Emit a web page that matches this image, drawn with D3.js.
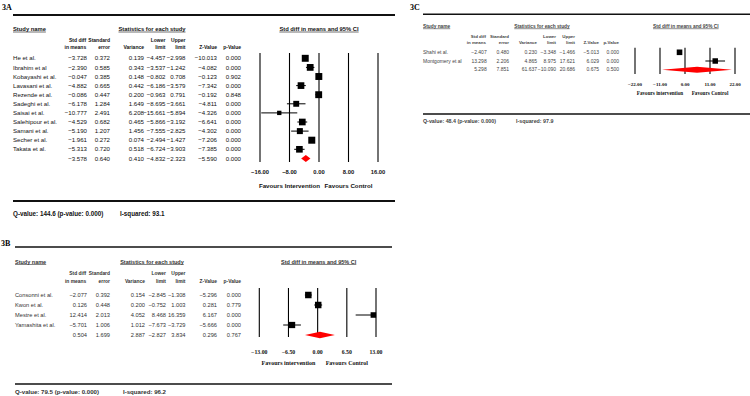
<!DOCTYPE html>
<html>
<head>
<meta charset="utf-8">
<script src="https://cdn.jsdelivr.net/npm/d3@7/dist/d3.min.js"></script>
<style>
  html, body { margin: 0; padding: 0; background: #fff; }
  svg { display: block; }
</style>
</head>
<body>
<div id="chart"></div>
<script>
// Forest plots 3A / 3B / 3C - study tables with std diff in means and 95% CI

// columns: std diff, standard error, variance, lower limit, upper limit, z, p
const namesA = ['He et al.', 'Ibrahim et al', 'Kobayashi et al.', 'Lavasani et al.', 'Rezende et al.',
  'Sadeghi et al.', 'Saisai et al.', 'Salehipour et al.', 'Samani et al.', 'Secher et al.', 'Takata et al.'];
const statsA = [
  [-3.728, 0.372, 0.139, -4.457, -2.998, -10.013, 0.000],
  [-2.390, 0.585, 0.343, -3.537, -1.242, -4.082, 0.000],
  [-0.047, 0.385, 0.148, -0.802, 0.708, -0.123, 0.902],
  [-4.882, 0.665, 0.442, -6.186, -3.579, -7.342, 0.000],
  [-0.086, 0.447, 0.200, -0.963, 0.791, -0.192, 0.848],
  [-6.178, 1.284, 1.649, -8.695, -3.661, -4.811, 0.000],
  [-10.777, 2.491, 6.208, -15.661, -5.894, -4.326, 0.000],
  [-4.529, 0.682, 0.465, -5.866, -3.192, -6.641, 0.000],
  [-5.190, 1.207, 1.456, -7.555, -2.825, -4.302, 0.000],
  [-1.961, 0.272, 0.074, -2.494, -1.427, -7.206, 0.000],
  [-5.313, 0.720, 0.518, -6.724, -3.903, -7.385, 0.000]
];
const summaryA = [-3.578, 0.640, 0.410, -4.832, -2.323, -5.590, 0.000];
const ticksA = [-16, -8, 0, 8, 16];
const hetA = { q: 144.6, p: 0.000, i2: 93.1 };

const namesB = ['Consonni et al.', 'Kwon et al.', 'Mestre et al.', 'Yamashita et al.'];
const statsB = [
  [-2.077, 0.392, 0.154, -2.845, -1.308, -5.296, 0.000],
  [0.126, 0.448, 0.200, -0.752, 1.003, 0.281, 0.779],
  [12.414, 2.013, 4.052, 8.468, 16.359, 6.167, 0.000],
  [-5.701, 1.006, 1.012, -7.673, -3.729, -5.666, 0.000]
];
const summaryB = [0.504, 1.699, 2.887, -2.827, 3.834, 0.296, 0.767];
const ticksB = [-13, -6.5, 0, 6.5, 13];
const hetB = { q: 79.5, p: 0.000, i2: 96.2 };

const namesC = ['Shahi et al.', 'Montgomery et al'];
const statsC = [
  [-2.407, 0.480, 0.230, -3.348, -1.466, -5.013, 0.000],
  [13.298, 2.206, 4.865, 8.975, 17.621, 6.029, 0.000]
];
const summaryC = [5.298, 7.851, 61.637, -10.090, 20.686, 0.675, 0.500];
const ticksC = [-22, -11, 0, 11, 22];
const hetC = { q: 48.4, p: 0.000, i2: 97.9 };

const width = 750;
const height = 396;
const SANS = 'Arial, "Liberation Sans", sans-serif';
const SERIF = '"Times New Roman", "Liberation Serif", serif';

const svg = d3.select('#chart').append('svg')
  .attr('width', width)
  .attr('height', height)
  .attr('viewBox', `0 0 ${width} ${height}`);

const panels = [
  {
    label: '3A', labelX: 2, labelY: 9.5,
    names: namesA, stats: statsA, summary: summaryA, ticks: ticksA, het: hetA,
    left: 13, right: 395, topY: 15, topW: 1.8, bottomY: 201, bottomW: 1.8,
    titleY: 31, head1: 41.5, head2: 48.5, row0: 58.3, pitch: 9.1,
    cols: [87, 110, 144, 165.5, 185.5, 217, 241], statsCenter: 152,
    range: [260, 378], gridTop: 53, gridBottom: 162, tickY: 171.5, favY: 186, axisFont: SANS,
    plotTitleX: 319, qY: 216, i2X: 120,
    body: 6.1, head: 5.8, colHead: 5.0, tickSize: 5.8, favSize: 6.2, qSize: 6.3, color: '#111',
    markMax: 7, diamondH: 7
  },
  {
    label: '3B', labelX: 1, labelY: 245.5,
    names: namesB, stats: statsB, summary: summaryB, ticks: ticksB, het: hetB,
    left: 15, right: 392, topY: 247, topW: 1.4, bottomY: 384, bottomW: 1.6,
    titleY: 263.5, head1: 274.5, head2: 283, row0: 295, pitch: 10,
    cols: [87, 110, 145, 166, 185.5, 217, 241], statsCenter: 152,
    range: [259.3, 376], gridTop: 288, gridBottom: 337, tickY: 351.5, favY: 362.5, axisFont: SERIF,
    plotTitleX: 318.7, qY: 394, i2X: 123,
    body: 5.7, head: 5.5, colHead: 4.9, tickSize: 5.8, favSize: 6, qSize: 6.1, color: '#333',
    markMax: 6.5, diamondH: 6.5
  },
  {
    label: '3C', labelX: 410, labelY: 9.5,
    names: namesC, stats: statsC, summary: summaryC, ticks: ticksC, het: hetC,
    left: 423, right: 750, topY: 14.3, topW: 1.6, bottomY: 114, bottomW: 1.6,
    titleY: 27.7, head1: 38.3, head2: 44, row0: 52.3, pitch: 8.7,
    cols: [486.7, 509, 537, 556, 575, 599, 619], statsCenter: 542,
    range: [635, 735], gridTop: 47.7, gridBottom: 74, tickY: 84.4, favY: 93.4, axisFont: SERIF,
    plotTitleX: 685.8, qY: 122.8, i2X: 516,
    body: 5.0, head: 4.8, colHead: 4.4, tickSize: 5, favSize: 5.2, qSize: 5.3, color: '#444',
    markMax: 5.6, diamondH: 6
  }
];

panels.forEach(drawPanel);

function underlined(g, text, x, y, size, anchor, color) {
  const t = g.append('text')
    .attr('x', x)
    .attr('y', y)
    .attr('text-anchor', anchor)
    .style('font-family', SANS)
    .style('font-weight', 'bold')
    .style('font-size', size + 'px')
    .style('fill', color)
    .text(text);
  const w = t.node().getComputedTextLength();
  const x0 = anchor === 'middle' ? x - w / 2 : x;
  g.append('line')
    .attr('x1', x0).attr('x2', x0 + w)
    .attr('y1', y + 1).attr('y2', y + 1)
    .attr('stroke', color)
    .attr('stroke-width', 0.6);
}

function drawPanel(p) {
  const g = svg.append('g').attr('class', 'panel-' + p.label);
  const fmt = d3.format('.3f');

  // panel label
  g.append('text')
    .attr('x', p.labelX)
    .attr('y', p.labelY)
    .style('font-family', SERIF)
    .style('font-weight', 'bold')
    .style('font-size', '8px')
    .text(p.label);

  // frame rules
  g.append('line')
    .attr('x1', p.left).attr('x2', p.right)
    .attr('y1', p.topY).attr('y2', p.topY)
    .attr('stroke', '#111').attr('stroke-width', p.topW);
  g.append('line')
    .attr('x1', p.left).attr('x2', p.right)
    .attr('y1', p.bottomY).attr('y2', p.bottomY)
    .attr('stroke', '#111').attr('stroke-width', p.bottomW);

  // headers
  underlined(g, 'Study name', p.left, p.titleY, p.head, 'start', p.color);
  underlined(g, 'Statistics for each study', p.statsCenter, p.titleY, p.head, 'middle', p.color);
  underlined(g, 'Std diff in means and 95% CI', p.plotTitleX, p.titleY, p.head, 'middle', p.color);

  const headers = [
    ['Std diff', 'in means'], ['Standard', 'error'], ['', 'Variance'],
    ['Lower', 'limit'], ['Upper', 'limit'], ['', 'Z-Value'], ['', 'p-Value']
  ];
  headers.forEach((h, i) => {
    [p.head1, p.head2].forEach((y, k) => {
      if (!h[k]) return;
      g.append('text')
        .attr('x', p.cols[i] - (i === 0 ? 0.8 : 0))
        .attr('y', y)
        .attr('text-anchor', 'end')
        .style('font-family', SANS)
        .style('font-weight', 'bold')
        .style('font-size', p.colHead + 'px')
        .style('fill', p.color)
        .text(h[k]);
    });
  });

  // rows (studies + summary)
  const rows = p.stats.map((s, i) => ({ name: p.names[i], s, summary: false }))
    .concat([{ name: '', s: p.summary, summary: true }]);
  const rowY = i => p.row0 + i * p.pitch;
  const base = p.body * 0.35;

  rows.forEach((r, i) => {
    g.append('text')
      .attr('x', p.left)
      .attr('y', rowY(i) + base)
      .style('font-family', SANS)
      .style('font-size', p.body + 'px')
      .style('fill', p.color)
      .text(r.name);
    r.s.forEach((v, j) => {
      g.append('text')
        .attr('x', p.cols[j])
        .attr('y', rowY(i) + base)
        .attr('text-anchor', 'end')
        .style('font-family', SANS)
        .style('font-size', p.body + 'px')
        .style('fill', p.color)
        .text(fmt(v));
    });
  });

  // forest plot
  const x = d3.scaleLinear()
    .domain(d3.extent(p.ticks))
    .range(p.range);
  const clampX = v => x(Math.max(x.domain()[0], Math.min(x.domain()[1], v)));

  g.selectAll('.grid')
    .data(p.ticks)
    .join('line')
    .attr('class', 'grid')
    .attr('x1', d => x(d)).attr('x2', d => x(d))
    .attr('y1', p.gridTop).attr('y2', p.gridBottom)
    .attr('stroke', '#000')
    .attr('stroke-width', 1.1);

  g.selectAll('.tick-label')
    .data(p.ticks)
    .join('text')
    .attr('class', 'tick-label')
    .attr('x', d => x(d))
    .attr('y', p.tickY + p.tickSize * 0.35)
    .attr('text-anchor', 'middle')
    .style('font-family', p.axisFont)
    .style('font-weight', 'bold')
    .style('font-size', p.tickSize + 'px')
    .style('fill', '#111')
    .text(d => d3.format('.2f')(d));

  const favours = [
    { t: p.axisFont === SANS ? 'Favours Intervention' : 'Favours intervention', v: p.ticks[1] },
    { t: 'Favours Control', v: p.ticks[3] }
  ];
  g.selectAll('.favours')
    .data(favours)
    .join('text')
    .attr('class', 'favours')
    .attr('x', d => x(d.v))
    .attr('y', p.favY + p.favSize * 0.35)
    .attr('text-anchor', 'middle')
    .style('font-family', p.axisFont)
    .style('font-weight', 'bold')
    .style('font-size', p.favSize + 'px')
    .style('fill', '#111')
    .text(d => d.t);

  // random-effects weights for marker size (DerSimonian-Laird tau^2 from Q)
  const w = p.stats.map(s => 1 / s[2]);
  const sw = d3.sum(w);
  const sw2 = d3.sum(w, d => d * d);
  const tau2 = Math.max(0, (p.het.q - (p.stats.length - 1)) / (sw - sw2 / sw));
  const rw = p.stats.map(s => 1 / (s[2] + tau2));
  const size = d3.scaleSqrt().domain([0, d3.max(rw)]).range([0, p.markMax]);

  const studies = g.selectAll('.study')
    .data(p.stats)
    .join('g')
    .attr('class', 'study');

  studies.append('line')
    .attr('x1', d => clampX(d[3]))
    .attr('x2', d => clampX(d[4]))
    .attr('y1', (d, i) => rowY(i))
    .attr('y2', (d, i) => rowY(i))
    .attr('stroke', '#000')
    .attr('stroke-width', 1);

  studies.append('rect')
    .attr('x', (d, i) => x(d[0]) - size(rw[i]) / 2)
    .attr('y', (d, i) => rowY(i) - size(rw[i]) / 2)
    .attr('width', (d, i) => size(rw[i]))
    .attr('height', (d, i) => size(rw[i]))
    .attr('fill', '#000');

  const sy = rowY(p.stats.length);
  const h = p.diamondH / 2;
  const s = p.summary;
  g.append('path')
    .attr('d', `M${clampX(s[3])},${sy}L${x(s[0])},${sy - h}L${clampX(s[4])},${sy}L${x(s[0])},${sy + h}Z`)
    .attr('fill', '#ff0000');

  // heterogeneity
  g.append('text')
    .attr('x', p.left)
    .attr('y', p.qY)
    .style('font-family', SANS)
    .style('font-weight', 'bold')
    .style('font-size', p.qSize + 'px')
    .style('fill', p.color)
    .text(`Q-value: ${p.het.q.toFixed(1)} (p-value: ${p.het.p.toFixed(3)})`);
  g.append('text')
    .attr('x', p.i2X)
    .attr('y', p.qY)
    .style('font-family', SANS)
    .style('font-weight', 'bold')
    .style('font-size', p.qSize + 'px')
    .style('fill', p.color)
    .text(`I-squared: ${p.het.i2.toFixed(1)}`);
}
</script>
</body>
</html>
